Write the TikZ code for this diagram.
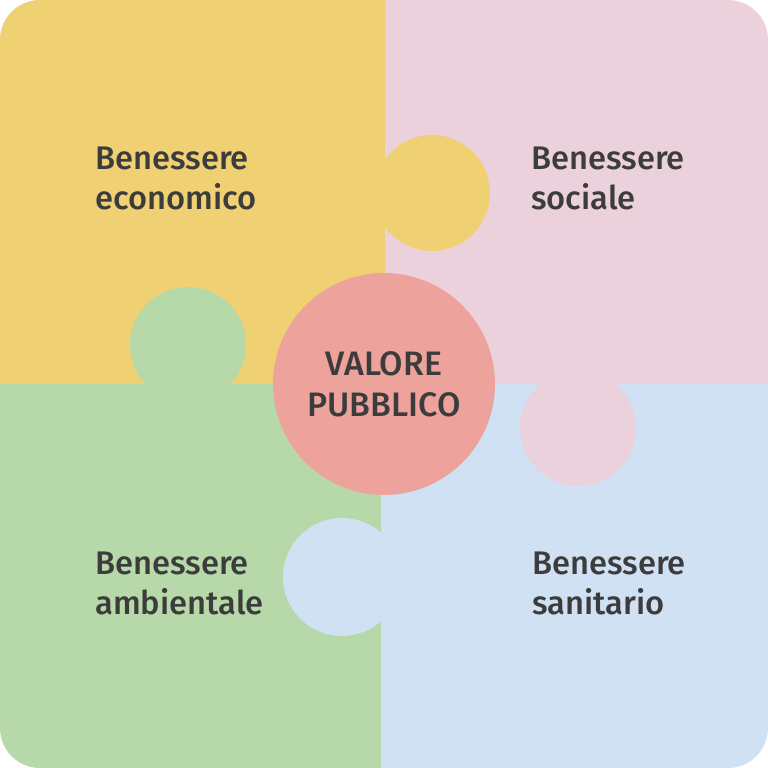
\documentclass[tikz,border=0pt]{standalone}
\usepackage{fontspec}
\setmainfont{Fira Sans}
\newfontfamily\piecefont{Fira Sans Medium}
\definecolor{ecoyellow}{HTML}{EFD072}
\definecolor{socpink}{HTML}{EBD1DC}
\definecolor{ambgreen}{HTML}{B7D8A8}
\definecolor{sanblue}{HTML}{CFE1F2}
\definecolor{valred}{HTML}{EDA39B}
\definecolor{txtgray}{HTML}{3C3C3C}
\tikzset{
    label text/.style={anchor=base west, align=left, inner sep=0pt, text=txtgray,
        font=\piecefont\fontsize{18.6}{22.8}\selectfont},
    center disc/.style={circle, fill=valred, minimum size=4.44cm, inner sep=0pt, align=center,
        text=txtgray, font=\piecefont\fontsize{19.3}{23.3}\selectfont}
}
\begin{document}
\begin{tikzpicture}[x=0.02cm, y=0.02cm]
    \useasboundingbox (0,0) rectangle (768,768);
    \begin{scope}
        \clip[rounded corners=0.8cm] (0,0) rectangle (768,768);
        % four pieces
        \fill[ecoyellow] (0,384) rectangle (385,768);
        \fill[socpink] (385,384) rectangle (768,768);
        \fill[ambgreen] (0,0) rectangle (381,384);
        \fill[sanblue] (381,0) rectangle (768,384);
        % tabs
        \fill[ecoyellow] (432,575) circle[radius=58];
        \fill[ambgreen] (188,423) circle[radius=58];
        \fill[socpink] (578,340) circle[radius=58];
        \fill[sanblue] (342,191) circle[radius=59];
    \end{scope}
    \node[center disc] (valore) at (384,384) {VALORE\\PUBBLICO};
    \node[label text] (economico) at (95,558) {Benessere\\economico};
    \node[label text] (sociale) at (531,558) {Benessere\\sociale};
    \node[label text] (ambientale) at (95,153) {Benessere\\ambientale};
    \node[label text] (sanitario) at (532,153) {Benessere\\sanitario};
\end{tikzpicture}
\end{document}
